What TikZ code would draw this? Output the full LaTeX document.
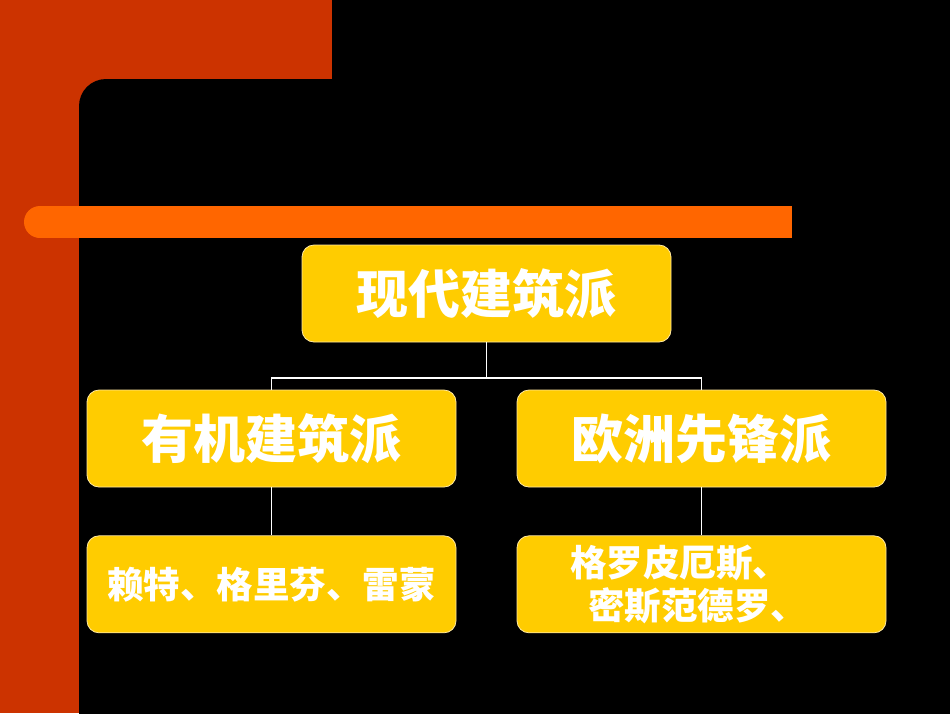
\documentclass[tikz,border=0pt]{standalone}
\usepackage{fontspec}
\usepackage{xcolor}
\usepackage{tikz}
\usetikzlibrary{positioning}
\newfontfamily\cjk{Noto Sans CJK SC}
\definecolor{redbg}{HTML}{CC3300}
\definecolor{barorange}{HTML}{FF6600}
\definecolor{goldx}{HTML}{FFCC00}
\definecolor{edgex}{HTML}{FFE8A0}
\tikzset{
  box/.style={draw=edgex,line width=0.8pt,rounded corners=12pt,fill=goldx,text=white,
    minimum width=369pt,minimum height=97pt,inner sep=0pt,align=center,font=\cjk\bfseries},
  big/.style={font=\cjk\bfseries\fontsize{52}{60}\selectfont},
  small/.style={font=\cjk\bfseries\fontsize{36.5}{43}\selectfont},
  link/.style={white,line width=1.8pt}
}
\begin{document}
\begin{tikzpicture}[x=1pt,y=-1pt]
\useasboundingbox (0,0) rectangle (950,713);
\fill[black] (0,0) rectangle (950,713);
% frame
\fill[redbg] (0,0) rectangle (332,106);
\fill[redbg] (0,0) rectangle (79,713);
\fill[black,rounded corners=27pt] (79,79) rectangle (990,760);
\fill[barorange] (40,206) rectangle (792,238);
\fill[barorange] (40,222) circle (16);
% tree
\node[box,big] (modern) at (486.5,293.5) {现代建筑派};
\node[box,big] (organic) at (271.5,438.5) {有机建筑派};
\node[box,big] (avant) at (701.5,438.5) {欧洲先锋派};
\node[box,small,below=48pt of organic] (wright) {赖特、格里芬、雷蒙};
\node[box,small,below=48pt of avant,align=left] (gropius) {格罗皮厄斯、\\\hspace*{0.5em}密斯范德罗、\hspace*{0.7em}};
\coordinate (split) at (486.5,378);
\draw[link] (modern) -- (split);
\draw[link] (organic.north) |- (split) -| (avant.north);
\draw[link] (organic) -- (wright);
\draw[link] (avant) -- (gropius);
\end{tikzpicture}
\end{document}
